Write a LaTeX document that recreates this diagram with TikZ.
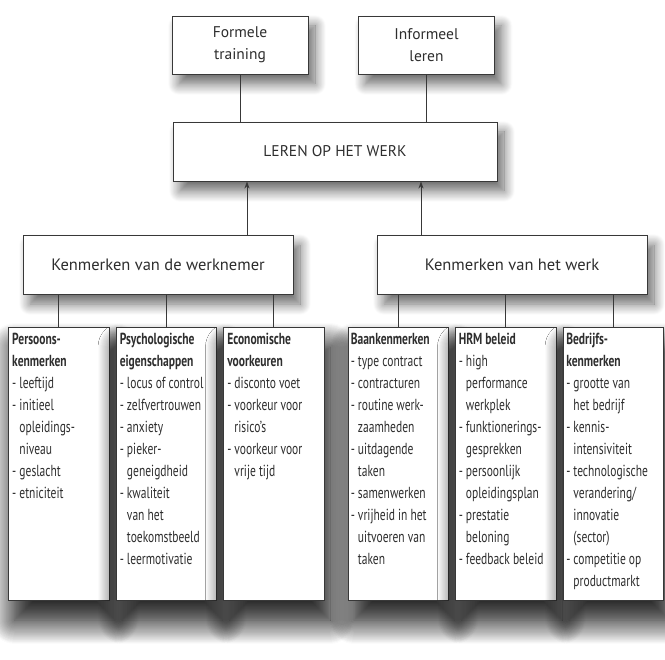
\documentclass[tikz,border=0pt]{standalone}
\usepackage{fontspec}
\setmainfont{PT Sans}
\newfontfamily\smalfont{PT Sans}[FakeStretch=0.72]
\usetikzlibrary{arrows.meta,positioning,calc,shadows.blur}

\definecolor{lijn}{gray}{0.22}
\definecolor{tekst}{gray}{0.18}
\newcommand{\vervolg}{\hphantom{-\ }}

\begin{document}
\begin{tikzpicture}[
  x=1pt, y=-1pt,
  >={Stealth[length=7pt,width=5pt]},
  box/.style={draw=lijn, line width=0.9pt, fill=white, align=center, text=tekst,
    blur shadow={shadow xshift=7pt, shadow yshift=-10pt, shadow blur radius=11pt,
      shadow blur steps=14, shadow opacity=60}},
  topbox/.style={box, minimum width=136pt, minimum height=58pt, font=\fontsize{15.5}{22}\selectfont},
  catbox/.style={box, minimum width=270pt, minimum height=59pt, font=\fontsize{16.5}{20}\selectfont},
  detailbox/.style={box, minimum width=100.5pt, minimum height=273pt,
    blur shadow={shadow xshift=6pt, shadow yshift=-20pt, shadow blur radius=24pt,
      shadow blur steps=24, shadow opacity=65}},
  listtext/.style={anchor=north west, align=left, inner sep=0pt, text=tekst,
    font=\smalfont\fontsize{16}{22}\selectfont},
  conn/.style={draw=lijn, line width=0.9pt}
]
\useasboundingbox (0,0) rectangle (665,660);

% Top: forms of learning
\node[topbox] (formeel) at (240,45) {Formele\\training};
\node[topbox] (informeel) at (426.5,45) {Informeel\\leren};
\node[topbox, minimum width=324pt, minimum height=59pt] (leren) at (335,151.5) {LEREN OP HET WERK};

% Middle: the two groups of characteristics
\node[catbox] (werknemer) at (158,264.5) {Kenmerken van de werknemer};
\node[catbox] (werk) at (512,264.5) {Kenmerken van het werk};

% Bottom: detail boxes
\node[detailbox] (pers) at (58.75,463.5) {};
\node[detailbox] (psych) at (166.25,463.5) {};
\node[detailbox] (econ) at (273.75,463.5) {};
\node[detailbox] (baan) at (398.25,463.5) {};
\node[detailbox] (hrm) at (505.75,463.5) {};
\node[detailbox] (bedrijf) at (613.25,463.5) {};

\node[listtext] (perstekst) at ([xshift=4pt,yshift=-6pt]pers.north west) {%
  \textbf{Persoons-}\\ \textbf{kenmerken}\\ - leeftijd\\ - initieel\\ \vervolg opleidings-\\
  \vervolg niveau\\ - geslacht\\ - etniciteit};
\node[listtext] (psychtekst) at ([xshift=4pt,yshift=-6pt]psych.north west) {%
  \textbf{Psychologische}\\ \textbf{eigenschappen}\\ - locus of control\\ - zelfvertrouwen\\
  - anxiety\\ - pieker-\\ \vervolg geneigdheid\\ - kwaliteit\\ \vervolg van het\\
  \vervolg toekomstbeeld\\ - leermotivatie};
\node[listtext] (econtekst) at ([xshift=4pt,yshift=-6pt]econ.north west) {%
  \textbf{Economische}\\ \textbf{voorkeuren}\\ - disconto voet\\ - voorkeur voor\\
  \vervolg risico’s\\ - voorkeur voor\\ \vervolg vrije tijd};
\node[listtext] (baantekst) at ([xshift=3pt,yshift=-6pt]baan.north west) {%
  \textbf{Baankenmerken}\\ - type contract\\ - contracturen\\ - routine werk-\\
  \vervolg zaamheden\\ - uitdagende\\ \vervolg taken\\ - samenwerken\\ - vrijheid in het\\
  \vervolg uitvoeren van\\ \vervolg taken};
\node[listtext] (hrmtekst) at ([xshift=3.5pt,yshift=-6pt]hrm.north west) {%
  \textbf{HRM beleid}\\ - high\\ \vervolg performance\\ \vervolg werkplek\\
  - funktionerings-\\ \vervolg gesprekken\\ - persoonlijk\\ \vervolg opleidingsplan\\
  - prestatie\\ \vervolg beloning\\ - feedback beleid};
\node[listtext] (bedrijftekst) at ([xshift=3.5pt,yshift=-6pt]bedrijf.north west) {%
  \textbf{Bedrijfs-}\\ \textbf{kenmerken}\\ - grootte van\\ \vervolg het bedrijf\\
  - kennis-\\ \vervolg intensiviteit\\ - technologische\\ \vervolg verandering/\\
  \vervolg innovatie\\ \vervolg (sector)\\ - competitie op\\ \vervolg productmarkt};

% Connectors
\draw[conn] (formeel.south) -- (formeel.south |- leren.north);
\draw[conn] (informeel.south) -- (informeel.south |- leren.north);
\draw[conn, ->] ([xshift=89pt]werknemer.north) -- ([xshift=89pt]werknemer.north |- leren.south);
\draw[conn, ->] ([xshift=-91pt]werk.north) -- ([xshift=-91pt]werk.north |- leren.south);
\foreach \blok in {pers, psych, econ} {
  \draw[conn] (\blok.north |- werknemer.south) -- (\blok.north);
}
\foreach \blok in {baan, hrm, bedrijf} {
  \draw[conn] (\blok.north |- werk.south) -- (\blok.north);
}

\end{tikzpicture}
\end{document}
